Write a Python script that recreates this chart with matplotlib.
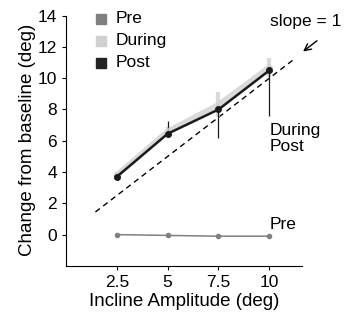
import numpy as np
import matplotlib
matplotlib.use("Agg")
import matplotlib.pyplot as plt

# Incline amplitudes and mean change from baseline
Amplitudes = [2.5, 5, 7.5, 10]
Pre = [0.0, -0.05, -0.1, -0.1]
During = [3.8, 6.6, 8.3, 10.7]
Post = [3.7, 6.45, 8.0, 10.5]
DuringErr = [0.2, 0.3, 0.8, 0.6]
PostErrUp = [0.0, 0.8, 0.0, 0.0]
PostErrDown = [0.0, 0.0, 1.8, 2.9]

matplotlib.rcParams.update({'font.size': 12, 'font.family': ['Liberation Sans', 'DejaVu Sans']})

fig = plt.figure(figsize=(3.49, 3.20), dpi=100)
ax = fig.add_axes([0.189, 0.169, 0.676, 0.787])

# slope = 1 reference line
Ref = np.array([1.45, 11.3])
ax.plot(Ref, Ref, '--', color='black', lw=1.0, dashes=(4, 3))

ax.plot(Amplitudes, Pre, '-', color='#808080', lw=1.1, marker='o', ms=3)
ax.errorbar(Amplitudes, During, yerr=DuringErr, color='#d0d0d0', lw=4, alpha=0.8,
            elinewidth=3, capsize=0)
ax.errorbar(Amplitudes, Post, yerr=[PostErrDown, PostErrUp], color='#1a1a1a', lw=1.8,
            marker='o', ms=4, elinewidth=0.9, capsize=0)

# legend-like labels
for i, (Name, Col) in enumerate([('Pre', '#808080'), ('During', '#d0d0d0'), ('Post', '#222222')]):
  y = 13.8 - i * 1.4
  ax.plot([1.7], [y], 's', color=Col, ms=7, clip_on=False)
  ax.text(2.45, y, Name, va='center', ha='left', fontsize=12.5)

ax.text(10.0, 6.15, 'During\nPost', ha='left', va='center', fontsize=12.5, linespacing=1.05)
ax.text(10.0, 0.65, 'Pre', ha='left', va='center', fontsize=12.5)
ax.text(10.05, 13.6, 'slope = 1', ha='left', va='center', fontsize=12.5, clip_on=False)
ax.annotate('', xy=(11.55, 11.6), xytext=(12.45, 12.5),
            arrowprops=dict(arrowstyle='->', color='black', lw=1.0), annotation_clip=False)

ax.set_xlim(0, 11.6)
ax.set_ylim(-2, 14.1)
ax.set_xticks(Amplitudes)
ax.set_xticklabels(['2.5', '5', '7.5', '10'])
ax.set_yticks(np.arange(0, 15, 2))
ax.spines['top'].set_visible(False)
ax.spines['right'].set_visible(False)
ax.spines['left'].set_bounds(-2, 14)
ax.set_xlabel('Incline Amplitude (deg)', fontsize=13.5, labelpad=2)
ax.set_ylabel('Change from baseline (deg)', fontsize=13.5, labelpad=1)
ax.tick_params(length=3, labelsize=12.5)

fig.savefig('out.png', dpi=100)
